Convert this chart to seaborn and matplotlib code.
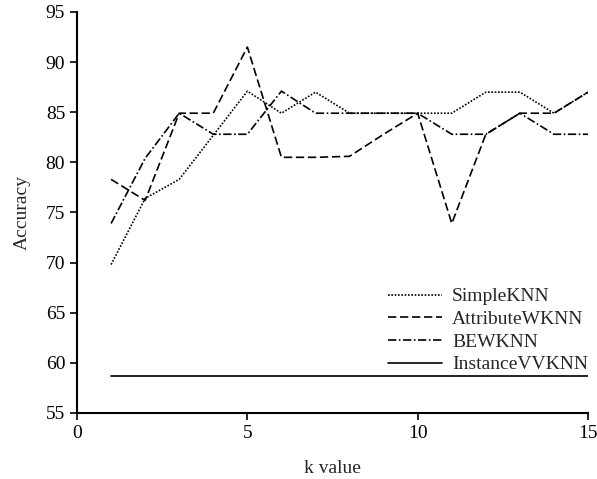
import pandas as pd
import matplotlib
matplotlib.use('Agg')
import matplotlib.pyplot as plt
import seaborn as sns

sns.set_style('ticks')
plt.rcParams['font.family'] = ['Liberation Serif', 'DejaVu Serif']

# Data
k_values = list(range(1, 16))
simple_knn = [69.8, 76.4, 78.3, 82.7, 87.1, 84.9, 87.0, 84.9, 84.9, 84.9, 84.9, 87.0, 87.0, 84.9, 87.0]
attribute_wknn = [78.3, 76.2, 84.9, 84.9, 91.5, 80.5, 80.5, 80.6, 82.8, 84.9, 73.9, 82.8, 84.9, 84.9, 87.0]
bewknn = [73.9, 80.4, 84.9, 82.8, 82.8, 87.1, 84.9, 84.9, 84.9, 84.9, 82.8, 82.8, 84.9, 82.8, 82.8]
instance_vvknn = [58.7] * 15

names = ['SimpleKNN', 'AttributeWKNN', 'BEWKNN', 'InstanceVVKNN']
series = [simple_knn, attribute_wknn, bewknn, instance_vvknn]

df = pd.concat([pd.DataFrame({'k': k_values, 'acc': vals, 'method': name})
                for name, vals in zip(names, series)], ignore_index=True)

fig = plt.figure(figsize=(5.97, 4.79), dpi=100)
ax = fig.add_axes([0.129, 0.138, 0.856, 0.837])

dash_map = {'SimpleKNN': (1, 1), 'AttributeWKNN': (5, 2.2),
            'BEWKNN': (5, 1.5, 1, 1.5), 'InstanceVVKNN': ''}
sns.lineplot(data=df, x='k', y='acc', hue='method', style='method',
             hue_order=names, style_order=names,
             palette=['black'] * 4, dashes=dash_map, linewidth=1.2, ax=ax)

ax.set_xlim(0, 15)
ax.set_ylim(55, 95)
ax.set_xticks([0, 5, 10, 15])
ax.set_yticks(range(55, 96, 5))
ax.tick_params(labelsize=14, length=5, width=1.2, direction='out', colors='black')
ax.set_xlabel('k value', fontsize=14, labelpad=13)
ax.set_ylabel('Accuracy', fontsize=14, labelpad=11)
for s in ['left', 'bottom']:
    ax.spines[s].set_linewidth(1.5)
    ax.spines[s].set_color('black')
sns.despine(ax=ax)

ax.legend(title=None, frameon=False, fontsize=14, loc='upper left',
          bbox_to_anchor=(0.650, 0.399), bbox_transform=fig.transFigure,
          borderpad=0, borderaxespad=0, handlelength=2.8,
          handletextpad=0.5, labelspacing=0.26)

plt.savefig('out.png', dpi=100)
plt.close()
